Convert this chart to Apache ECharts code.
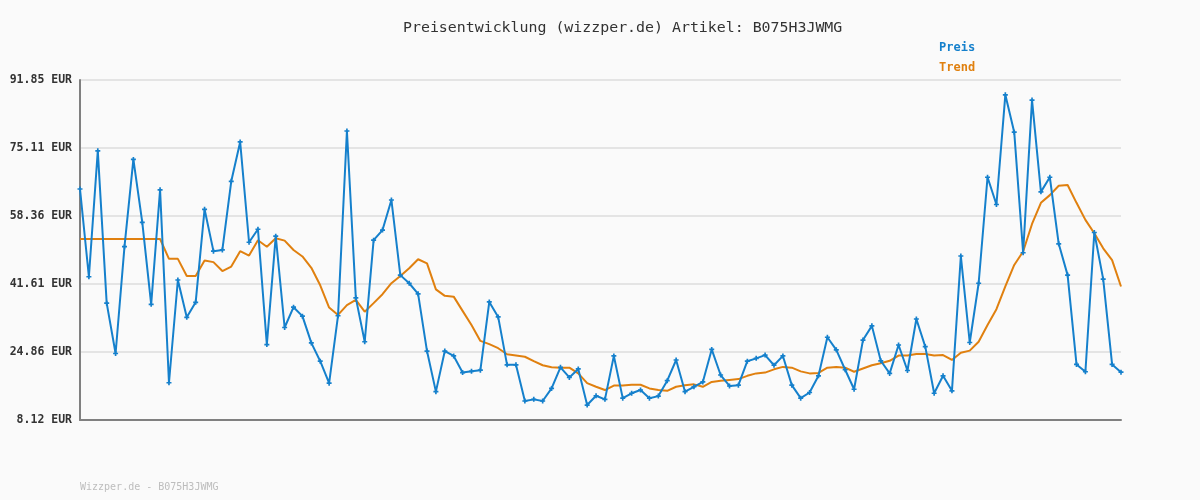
<!DOCTYPE html>
<html>
<head>
<meta charset="utf-8">
<script src="https://cdn.jsdelivr.net/npm/echarts@6/dist/echarts.min.js"></script>
<style>
html,body{margin:0;padding:0;background:#fafafa;}
#chart{width:1200px;height:500px;}
</style>
</head>
<body>
<div id="chart"></div>
<script>
const TITLE = 'Preisentwicklung (wizzper.de) Artikel: B075H3JWMG';
const FOOTER = 'Wizzper.de - B075H3JWMG';
const Y_TICKS = ['8.12', '24.86', '41.61', '58.36', '75.11', '91.85'];
const Y_MIN = 8.12;
const Y_MAX = 91.85;

const preis = [
  65.0, 43.4, 74.4, 36.9, 24.5, 50.8, 72.3, 56.8, 36.6, 64.8,
  17.3, 42.6, 33.4, 37.1, 60.0, 49.7, 50.0, 66.9, 76.6, 51.9,
  55.1, 26.7, 53.4, 30.9, 35.9, 33.7, 27.1, 22.6, 17.2, 33.8,
  79.3, 38.2, 27.4, 52.4, 54.9, 62.3, 43.8, 41.8, 39.2, 25.1,
  15.1, 25.1, 23.9, 19.8, 20.1, 20.4, 37.2, 33.5, 21.7, 21.7,
  12.8, 13.2, 12.8, 15.9, 21.1, 18.6, 20.7, 11.8, 14.1, 13.2,
  23.9, 13.5, 14.7, 15.5, 13.5, 14.0, 17.8, 22.9, 15.1, 16.3,
  17.5, 25.5, 19.2, 16.5, 16.7, 22.6, 23.3, 24.1, 21.6, 23.9,
  16.7, 13.5, 14.9, 19.0, 28.5, 25.4, 20.5, 15.7, 27.8, 31.3,
  22.7, 19.6, 26.6, 20.3, 33.0, 26.2, 14.7, 19.0, 15.3, 48.5,
  27.2, 41.8, 67.9, 61.2, 88.2, 79.0, 49.3, 86.9, 64.3, 67.9,
  51.5, 43.8, 21.8, 20.0, 54.3, 42.8, 21.8, 19.9
];

const trend = [
  52.7, 52.7, 52.7, 52.7, 52.7, 52.7, 52.7, 52.7, 52.7, 52.7,
  47.8, 47.8, 43.6, 43.6, 47.4, 47.0, 44.8, 45.9, 49.7, 48.6,
  52.4, 50.8, 52.9, 52.3, 50.0, 48.4, 45.6, 41.3, 35.8, 34.0,
  36.4, 37.7, 34.8, 36.9, 39.1, 41.8, 43.6, 45.5, 47.7, 46.7,
  40.3, 38.7, 38.5, 35.0, 31.5, 27.6, 26.8, 25.8, 24.3, 24.0,
  23.7, 22.6, 21.6, 21.1, 21.0, 21.0, 19.6, 17.2, 16.3, 15.5,
  16.6, 16.6, 16.8, 16.8, 15.9, 15.5, 15.3, 16.3, 16.7, 16.9,
  16.3, 17.5, 17.8, 18.0, 18.2, 19.0, 19.6, 19.8, 20.6, 21.2,
  21.0, 20.1, 19.6, 19.7, 21.0, 21.2, 21.0, 20.0, 20.8, 21.6,
  22.1, 22.7, 24.0, 24.0, 24.4, 24.4, 24.0, 24.1, 22.9, 24.7,
  25.2, 27.4, 31.5, 35.4, 41.0, 46.3, 49.6, 56.4, 61.6, 63.5,
  65.8, 66.0, 61.6, 57.4, 54.1, 50.4, 47.5, 41.0
];

const categories = preis.map((_, i) => String(i + 1));

const BLUE = '#1580cc';
const ORANGE = '#e0800f';
const MONO = '"DejaVu Sans Mono", "Liberation Mono", monospace';

const chart = echarts.init(document.getElementById('chart'));
chart.setOption({
  backgroundColor: '#fafafa',
  animation: false,
  title: [
    {
      text: TITLE,
      left: 398,
      top: 16,
      textStyle: {fontFamily: MONO, fontSize: 14.9, fontWeight: 'normal', color: '#333'}
    },
    {
      text: FOOTER,
      left: 75,
      top: 477,
      textStyle: {fontFamily: MONO, fontSize: 10, fontWeight: 'normal', color: '#bdbdbd'}
    }
  ],
  legend: {
    orient: 'vertical',
    left: 929,
    top: 37,
    itemWidth: 0,
    itemHeight: 0,
    itemGap: 8,
    selectedMode: false,
    data: [
      {name: 'Preis', icon: 'rect', textStyle: {color: BLUE}},
      {name: 'Trend', icon: 'rect', textStyle: {color: ORANGE}}
    ],
    textStyle: {fontFamily: MONO, fontSize: 12, fontWeight: 'bold'}
  },
  grid: {left: 80, right: 79, top: 80, bottom: 80, containLabel: false},
  xAxis: {
    type: 'category',
    data: categories,
    boundaryGap: false,
    axisLine: {show: true, lineStyle: {color: '#808080', width: 2}},
    axisTick: {show: false},
    axisLabel: {show: false},
    splitLine: {show: false}
  },
  yAxis: [
    {
      type: 'value',
      min: Y_MIN,
      max: Y_MAX,
      show: false,
      splitLine: {show: false}
    },
    {
      type: 'value',
      position: 'left',
      min: 0,
      max: Y_TICKS.length - 1,
      interval: 1,
      axisLine: {show: true, onZero: false, lineStyle: {color: '#808080', width: 2}},
      axisTick: {show: false},
      axisLabel: {
        margin: 8,
        fontFamily: MONO,
        fontSize: 11.5,
        fontWeight: 'bold',
        color: '#333',
        formatter: (v) => Y_TICKS[Math.round(v)] + ' EUR'
      },
      splitLine: {show: true, lineStyle: {color: '#e4e4e4', width: 2}}
    }
  ],
  series: [
    {
      name: 'Trend',
      type: 'line',
      yAxisIndex: 0,
      data: trend,
      showSymbol: false,
      symbol: 'none',
      lineStyle: {color: ORANGE, width: 2},
      itemStyle: {color: ORANGE},
      z: 2
    },
    {
      name: 'Preis',
      type: 'line',
      yAxisIndex: 0,
      data: preis,
      symbol: 'path://M2,0H4V2H6V4H4V6H2V4H0V2H2Z',
      symbolSize: 5,
      showSymbol: true,
      showAllSymbol: true,
      lineStyle: {color: BLUE, width: 2},
      itemStyle: {color: BLUE},
      z: 3
    }
  ]
});
</script>
</body>
</html>
